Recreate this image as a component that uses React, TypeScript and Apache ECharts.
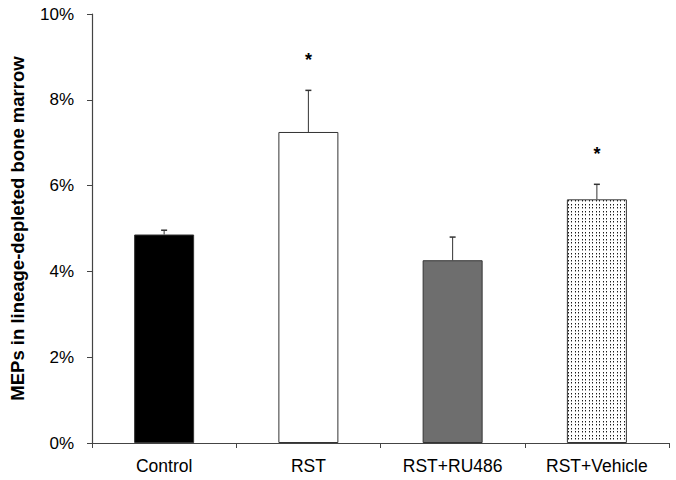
import React, { useEffect, useRef } from "react";
import * as echarts from "echarts";

const categories = ["Control", "RST", "RST+RU486", "RST+Vehicle"];
const means = [4.86, 7.25, 4.26, 5.68];
const errors = [0.1, 0.97, 0.54, 0.35];
const significance = ["", "*", "", "*"];
const yTicks = [0, 2, 4, 6, 8, 10];

const FONT = "'Liberation Sans', Arial, Helvetica, sans-serif";

function makeDotPattern(): HTMLCanvasElement {
  const c = document.createElement("canvas");
  c.width = 7;
  c.height = 7;
  const ctx = c.getContext("2d")!;
  ctx.fillStyle = "#ffffff";
  ctx.fillRect(0, 0, 7, 7);
  const pos = [1, 4];
  for (const px of pos) {
    for (const py of pos) {
      ctx.fillStyle = "#1a1a1a";
      ctx.fillRect(px, py, 1, 1);
      ctx.fillStyle = "#9a9a9a";
      ctx.fillRect(px, py + 1, 1, 1);
    }
  }
  return c;
}

export default function App() {
  const ref = useRef<HTMLDivElement>(null);
  useEffect(() => {
    if (!ref.current) return;
    const chart = echarts.init(ref.current, null, { renderer: "svg" });
    const pattern = makeDotPattern();
    const fills: any[] = [
      "#000000",
      "#ffffff",
      "#6e6e6e",
      { image: pattern, repeat: "repeat", imageWidth: 7, imageHeight: 7 },
    ];
    chart.setOption({
      animation: false,
      backgroundColor: "#ffffff",
      grid: { left: 85, right: 7, top: 14, bottom: 37, containLabel: false },
      xAxis: {
        type: "category",
        data: categories,
        boundaryGap: true,
        axisLine: { lineStyle: { color: "#444", width: 1.2 } },
        axisTick: { show: true, length: 5, inside: false, alignWithLabel: false, lineStyle: { color: "#444" } },
        axisLabel: { color: "#000", fontSize: 17.5, fontFamily: FONT, margin: 14 },
      },
      yAxis: {
        type: "value",
        min: yTicks[0],
        max: yTicks[yTicks.length - 1],
        interval: 2,
        name: "MEPs in lineage-depleted bone marrow",
        nameLocation: "middle",
        nameGap: 65,
        nameTextStyle: { color: "#000", fontSize: 18.5, fontWeight: "bold", fontFamily: FONT },
        axisLine: { show: true, lineStyle: { color: "#444", width: 1.2 } },
        axisTick: { show: true, length: 5, inside: false, lineStyle: { color: "#444" } },
        axisLabel: { color: "#000", fontSize: 17, fontFamily: FONT, margin: 18, formatter: "{value}%" },
        splitLine: { show: false },
      },
      series: [
        {
          type: "bar",
          barWidth: 60,
          data: means.map((v, i) => ({
            value: v,
            itemStyle: { color: fills[i], borderColor: "#333", borderWidth: 1 },
          })),
          z: 2,
        },
        {
          type: "custom",
          data: means.map((v, i) => [i, v, errors[i]]),
          z: 3,
          renderItem: (params: any, api: any) => {
            const idx = api.value(0);
            const m = api.value(1);
            const e = api.value(2);
            const base = api.coord([idx, m]);
            const top = api.coord([idx, m + e]);
            const x = base[0];
            const children: any[] = [
              { type: "line", shape: { x1: x, y1: base[1], x2: x, y2: top[1] }, style: { stroke: "#333", lineWidth: 1 } },
              { type: "line", shape: { x1: x - 3, y1: top[1], x2: x + 3, y2: top[1] }, style: { stroke: "#333", lineWidth: 1.5 } },
            ];
            const s = significance[params.dataIndex];
            if (s) {
              children.push({
                type: "text",
                x: x,
                y: top[1] - 30,
                style: {
                  text: s,
                  fill: "#000",
                  font: `bold 18px ${FONT}`,
                  align: "center",
                  verticalAlign: "middle",
                },
              });
            }
            return { type: "group", children };
          },
        },
      ],
    });
    return () => chart.dispose();
  }, []);
  return <div ref={ref} style={{ width: 676, height: 480, position: "absolute", left: 0, top: 0 }} />;
}
